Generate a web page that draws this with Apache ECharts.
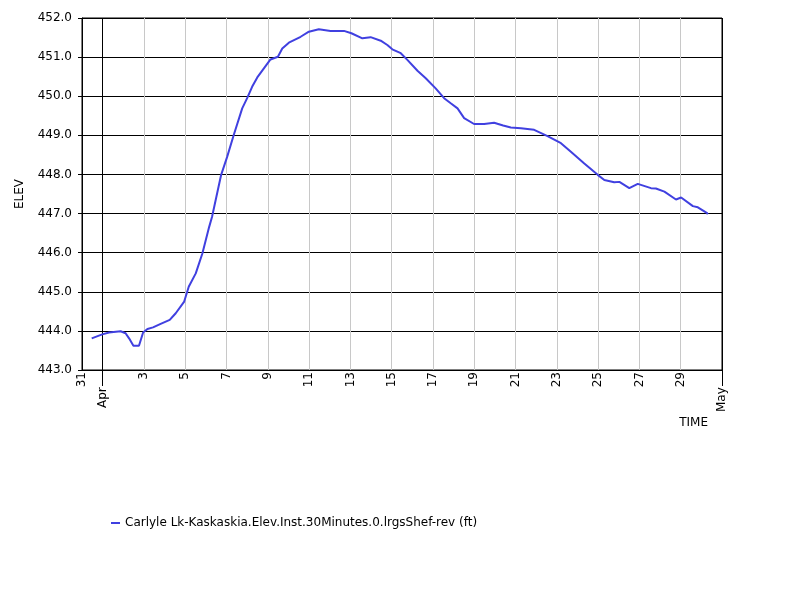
<!DOCTYPE html>
<html><head><meta charset="utf-8">
<script src="https://cdn.jsdelivr.net/npm/echarts@6/dist/echarts.min.js"></script>
<style>html,body{margin:0;padding:0;background:#fff}#c{width:800px;height:600px;outline:1px solid #000;outline-offset:-1px}</style>
</head><body><div id="c"></div>
<script>
// x values: days since 31 Mar 00:00
const dayOffsets = [0.47,0.98,1.31,1.87,2.11,2.28,2.49,2.76,2.96,3.17,3.44,3.81,4.25,4.54,4.95,5.17,5.51,5.83,6.16,6.30,6.74,7.03,7.35,7.76,8.00,8.24,8.49,8.81,9.13,9.49,9.70,10.02,10.59,10.99,11.47,12.04,12.69,13.05,13.58,13.98,14.47,14.79,15.03,15.44,15.76,16.25,16.65,17.13,17.54,17.86,18.19,18.51,18.99,19.48,19.96,20.40,20.77,21.26,21.90,22.55,23.20,23.68,24.33,24.98,25.30,25.78,26.03,26.51,26.92,27.56,27.80,28.21,28.77,29.02,29.59,29.83,30.28,30.31];
const elevations = [443.81,443.91,443.96,443.99,443.94,443.81,443.62,443.62,443.96,444.05,444.09,444.18,444.28,444.45,444.75,445.13,445.47,445.98,446.66,446.92,447.99,448.45,449.01,449.69,449.95,450.24,450.48,450.71,450.94,451.01,451.22,451.37,451.52,451.65,451.71,451.67,451.67,451.61,451.48,451.51,451.42,451.31,451.20,451.10,450.93,450.65,450.46,450.20,449.95,449.82,449.69,449.44,449.29,449.29,449.32,449.25,449.20,449.18,449.14,448.98,448.80,448.58,448.28,447.99,447.86,447.80,447.81,447.65,447.76,447.65,447.64,447.56,447.36,447.41,447.19,447.16,447.01,446.98];
const seriesName = 'Carlyle Lk-Kaskaskia.Elev.Inst.30Minutes.0.lrgsShef-rev (ft)';
const xTickValues = [0,1,3,5,7,9,11,13,15,17,19,21,23,25,27,29,31];
const xTickLabels = ['31','Apr','3','5','7','9','11','13','15','17','19','21','23','25','27','29','May'];
const monthTickValues = [1,31];
const yMin = 443, yMax = 452, yStep = 1;

const labelMap = {};
xTickValues.forEach((v,i)=>{ labelMap[v] = xTickLabels[i]; });
const gridColors = [];
for (let d = 0; d <= 31; d++) {
  if (monthTickValues.indexOf(d) >= 0 || d === 0) gridColors.push('#000');
  else if (xTickValues.indexOf(d) >= 0) gridColors.push('#c8c8c8');
  else gridColors.push('rgba(0,0,0,0)');
}
const FONT = 'DejaVu Sans';
const chart = echarts.init(document.getElementById('c'), null, {renderer:'canvas'});
chart.setOption({
  animation: false,
  backgroundColor: '#fff',
  textStyle: {fontFamily: FONT, color: '#000'},
  grid: {left: 82, right: 78, top: 18, bottom: 230, show: true, borderColor: '#000', borderWidth: 1, backgroundColor: 'transparent'},
  legend: {
    left: 106, top: 512, icon: 'rect', itemWidth: 9, itemHeight: 2,
    textStyle: {fontFamily: FONT, fontSize: 12, color: '#000'},
    data: [seriesName]
  },
  xAxis: [{
    type: 'value', min: 0, max: 31, interval: 1, position: 'bottom',
    name: 'TIME', nameLocation: 'end', nameGap: -14,
    nameTextStyle: {fontFamily: FONT, fontSize: 12, color: '#000', align: 'right', verticalAlign: 'top', padding: [47,0,0,0]},
    axisLine: {show: true, lineStyle: {color: '#000', width: 1}},
    axisTick: {show: false},
    axisLabel: {
      customValues: xTickValues, rotate: 90, margin: 2, color: '#000', fontSize: 12, fontFamily: FONT,
      formatter: function(v){ const s = labelMap[v] || ''; return monthTickValues.indexOf(v) >= 0 ? s + '    ' : s; }
    },
    splitLine: {show: true, lineStyle: {color: gridColors, width: 1}}
  }, {
    type: 'value', min: 0, max: 31, interval: 1, position: 'bottom', offset: 0,
    axisLine: {show: false},
    axisTick: {show: true, customValues: monthTickValues, length: 16, lineStyle: {color: '#000'}},
    axisLabel: {show: false},
    splitLine: {show: false}
  }],
  yAxis: {
    type: 'value', min: yMin, max: yMax, interval: yStep,
    name: 'ELEV', nameLocation: 'middle', nameGap: 56,
    nameTextStyle: {fontFamily: FONT, fontSize: 12, color: '#000'},
    axisLine: {show: true, lineStyle: {color: '#000', width: 1}},
    axisTick: {show: true, length: 4, lineStyle: {color: '#000'}},
    axisLabel: {color: '#000', fontSize: 12, fontFamily: FONT, margin: 10, formatter: v => v.toFixed(1)},
    splitLine: {show: true, lineStyle: {color: '#000', width: 1}}
  },
  series: [{
    name: seriesName, type: 'line', xAxisIndex: 0, showSymbol: false, smooth: false,
    lineStyle: {color: '#4040e0', width: 2}, itemStyle: {color: '#4040e0'},
    data: dayOffsets.map((d,i)=>[d, elevations[i]])
  }]
});
</script></body></html>
